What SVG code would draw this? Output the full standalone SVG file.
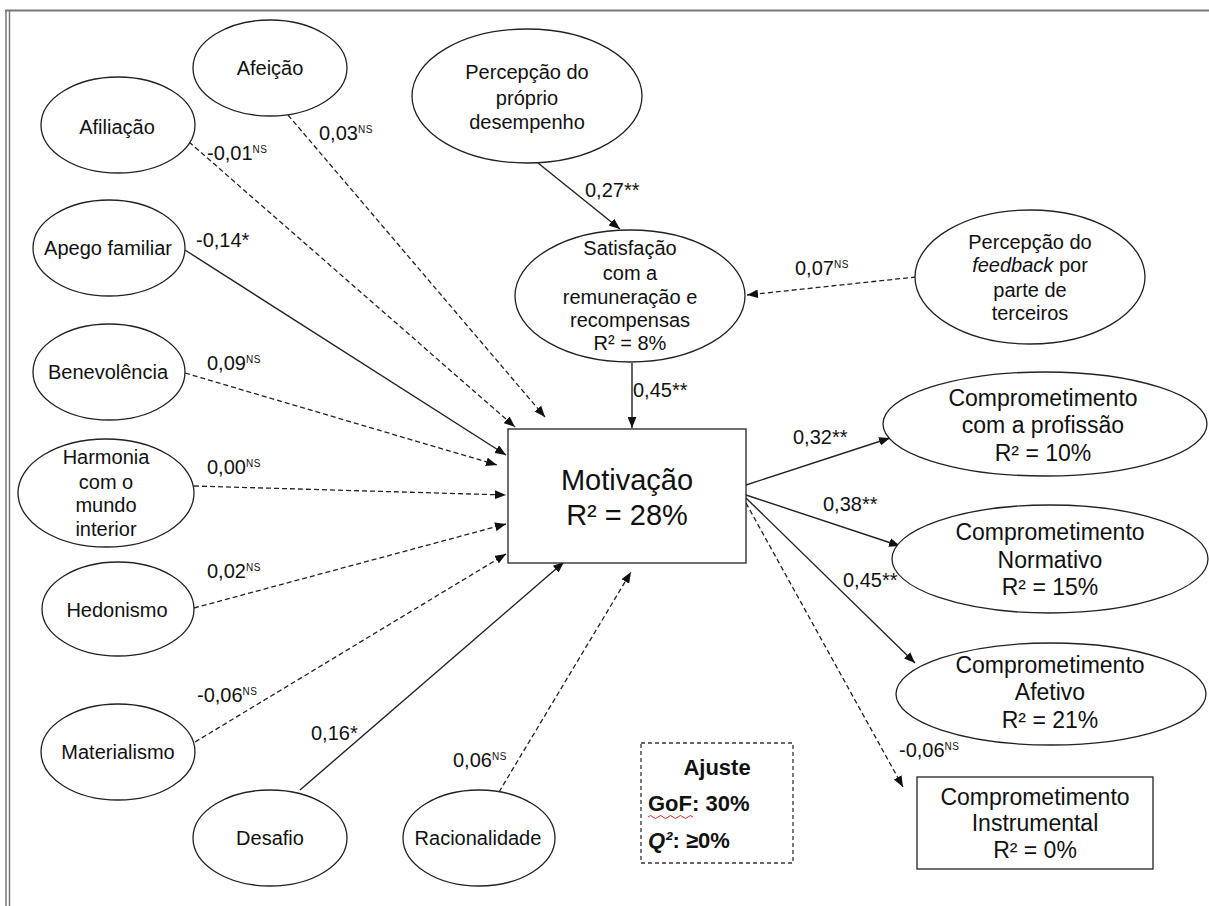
<svg xmlns="http://www.w3.org/2000/svg" width="1209" height="906" viewBox="0 0 1209 906">
<defs>
<marker id="ah" viewBox="0 0 10 8" refX="10" refY="4" markerWidth="11" markerHeight="9" markerUnits="userSpaceOnUse" orient="auto">
<path d="M0,0 L10,4 L0,8 z" fill="#111"/>
</marker>
<style>
.n ellipse, .n rect { fill: #fff; stroke: #222; stroke-width: 1.3; }
text { font-family: "Liberation Sans", Arial, sans-serif; fill: #111; }
.t { font-size: 20px; text-anchor: middle; }
.b { font-size: 23px; text-anchor: middle; }
.m { font-size: 29px; text-anchor: middle; }
.l { font-size: 20px; }
.ns { font-size: 10px; letter-spacing: 0.5px; }
.c line { stroke: #222; stroke-width: 1.4; marker-end: url(#ah); }
.c line.d { stroke-dasharray: 5 3; stroke-width: 1.3; }
.fit { font-size: 22px; font-weight: bold; }
</style>
</defs>
<rect width="1209" height="906" fill="#fff"/>
<g id="frame" stroke="#777" fill="none">
<line x1="5" y1="10.5" x2="1209" y2="10.5" stroke-width="2"/>
<line x1="6" y1="10" x2="6" y2="906" stroke-width="1.5"/>
<line x1="9.5" y1="10" x2="9.5" y2="906" stroke-width="1.5"/>
</g>

<g id="connectors" class="c">
<line class="d" x1="189" y1="142" x2="515" y2="427"/>
<line class="d" x1="288" y1="115" x2="545" y2="417"/>
<line x1="185" y1="250" x2="506" y2="455"/>
<line class="d" x1="185" y1="373" x2="497" y2="465"/>
<line class="d" x1="194" y1="486" x2="506" y2="495"/>
<line class="d" x1="194" y1="608" x2="506" y2="524"/>
<line class="d" x1="195" y1="742" x2="506" y2="554"/>
<line x1="300" y1="790" x2="564" y2="562"/>
<line class="d" x1="499" y1="792" x2="631" y2="572"/>
<line x1="538" y1="163" x2="620" y2="229"/>
<line class="d" x1="916" y1="277" x2="747" y2="295"/>
<line x1="632" y1="363" x2="632" y2="428"/>
<line x1="746" y1="485" x2="890" y2="438"/>
<line x1="746" y1="495" x2="900" y2="546"/>
<line x1="746" y1="498" x2="915" y2="663"/>
<line class="d" x1="746" y1="503" x2="903" y2="787"/>
</g>

<g id="labels">
<text class="l" x="207" y="160">-0,01<tspan class="ns" dy="-7">NS</tspan></text>
<text class="l" x="319" y="140">0,03<tspan class="ns" dy="-7">NS</tspan></text>
<text class="l" x="196" y="247">-0,14*</text>
<text class="l" x="207" y="370">0,09<tspan class="ns" dy="-7">NS</tspan></text>
<text class="l" x="207" y="474">0,00<tspan class="ns" dy="-7">NS</tspan></text>
<text class="l" x="207" y="578">0,02<tspan class="ns" dy="-7">NS</tspan></text>
<text class="l" x="197" y="702">-0,06<tspan class="ns" dy="-7">NS</tspan></text>
<text class="l" x="311" y="740">0,16*</text>
<text class="l" x="453" y="767">0,06<tspan class="ns" dy="-7">NS</tspan></text>
<text class="l" x="585" y="197">0,27**</text>
<text class="l" x="633" y="397">0,45**</text>
<text class="l" x="795" y="275">0,07<tspan class="ns" dy="-7">NS</tspan></text>
<text class="l" x="793" y="444">0,32**</text>
<text class="l" x="823" y="511">0,38**</text>
<text class="l" x="843" y="587">0,45**</text>
<text class="l" x="899" y="757">-0,06<tspan class="ns" dy="-7">NS</tspan></text>
</g>

<g id="afeicao" class="n"><ellipse cx="270" cy="68" rx="77" ry="48"/><text class="t" x="270" y="75">Afeição</text></g>
<g id="afiliacao" class="n"><ellipse cx="118" cy="125" rx="77" ry="48"/><text class="t" x="117" y="134">Afiliação</text></g>
<g id="apego" class="n"><ellipse cx="109" cy="248" rx="76" ry="48"/><text class="t" x="108" y="255">Apego familiar</text></g>
<g id="benevolencia" class="n"><ellipse cx="109" cy="372" rx="76" ry="48"/><text class="t" x="108" y="379">Benevolência</text></g>
<g id="harmonia" class="n"><ellipse cx="106" cy="493" rx="88" ry="54"/>
<text class="t" x="106" y="464">Harmonia</text><text class="t" x="106" y="489">com o</text><text class="t" x="106" y="512">mundo</text><text class="t" x="106" y="536">interior</text></g>
<g id="hedonismo" class="n"><ellipse cx="118" cy="609" rx="76" ry="47"/><text class="t" x="117" y="617">Hedonismo</text></g>
<g id="materialismo" class="n"><ellipse cx="118" cy="752" rx="77" ry="48"/><text class="t" x="118" y="759">Materialismo</text></g>
<g id="desafio" class="n"><ellipse cx="270" cy="838" rx="77" ry="48"/><text class="t" x="270" y="845">Desafio</text></g>
<g id="racionalidade" class="n"><ellipse cx="479" cy="838" rx="76" ry="48"/><text class="t" x="478" y="845">Racionalidade</text></g>

<g id="percepcao-desempenho" class="n"><ellipse cx="527" cy="96" rx="115" ry="67"/>
<text class="t" x="527" y="79">Percepção do</text><text class="t" x="527" y="105">próprio</text><text class="t" x="527" y="129">desempenho</text></g>
<g id="satisfacao" class="n"><ellipse cx="630" cy="296" rx="115" ry="66"/>
<text class="t" x="630" y="255">Satisfação</text><text class="t" x="630" y="280">com a</text><text class="t" x="630" y="304">remuneração e</text><text class="t" x="630" y="327">recompensas</text><text class="t" x="630" y="350">R² = 8%</text></g>
<g id="percepcao-feedback" class="n"><ellipse cx="1030" cy="277" rx="115" ry="67"/>
<text class="t" x="1030" y="249">Percepção do</text><text class="t" x="1030" y="272"><tspan font-style="italic">feedback</tspan> por</text><text class="t" x="1030" y="297">parte de</text><text class="t" x="1030" y="320">terceiros</text></g>

<g id="motivacao" class="n"><rect x="508" y="429" width="238" height="134"/>
<text class="m" x="627" y="490">Motivação</text><text class="m" x="627" y="525">R² = 28%</text></g>

<g id="comp-profissao" class="n"><ellipse cx="1045" cy="424" rx="162" ry="52"/>
<text class="b" x="1043" y="406">Comprometimento</text><text class="b" x="1043" y="433">com a profissão</text><text class="b" x="1043" y="461">R² = 10%</text></g>
<g id="comp-normativo" class="n"><ellipse cx="1050" cy="559" rx="158" ry="54"/>
<text class="b" x="1050" y="540">Comprometimento</text><text class="b" x="1050" y="568">Normativo</text><text class="b" x="1050" y="595">R² = 15%</text></g>
<g id="comp-afetivo" class="n"><ellipse cx="1051" cy="694" rx="155" ry="51"/>
<text class="b" x="1050" y="673">Comprometimento</text><text class="b" x="1050" y="700">Afetivo</text><text class="b" x="1050" y="728">R² = 21%</text></g>
<g id="comp-instrumental" class="n"><rect x="917" y="777" width="236" height="92"/>
<text class="b" x="1035" y="805">Comprometimento</text><text class="b" x="1035" y="831">Instrumental</text><text class="b" x="1035" y="858">R² = 0%</text></g>

<g id="ajuste">
<rect x="641" y="743" width="152" height="120" fill="#fff" stroke="#333" stroke-width="1.3" stroke-dasharray="4 3"/>
<text class="fit" x="717" y="775" text-anchor="middle">Ajuste</text>
<text class="fit" x="648" y="811">GoF: 30%</text>
<path d="M648,817 q2.5,-3 5,0 t5,0 t5,0 t5,0 t5,0 t5,0 t5,0 t5,0 t5,0" fill="none" stroke="#e02020" stroke-width="1"/>
<text class="fit" x="648" y="848"><tspan font-style="italic">Q²</tspan>: ≥0%</text>
</g>
</svg>
